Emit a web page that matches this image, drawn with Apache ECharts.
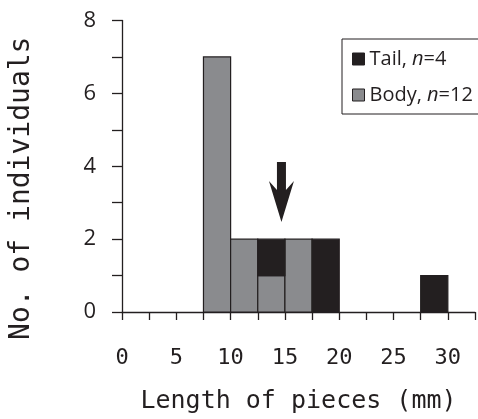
<!DOCTYPE html>
<html>
<head>
<meta charset="utf-8">
<script src="https://cdn.jsdelivr.net/npm/echarts@6/dist/echarts.min.js"></script>
<style>html,body{margin:0;padding:0;background:#fff;}#c{width:478px;height:419px;}</style>
</head>
<body>
<div id="c"></div>
<script>
var binStarts = [0, 2.5, 5, 7.5, 10, 12.5, 15, 17.5, 20, 22.5, 25, 27.5, 30];
var bodyCounts = [0, 0, 0, 7, 2, 1, 2, 0, 0, 0, 0, 0, 0];
var tailCounts = [0, 0, 0, 0, 0, 1, 0, 2, 0, 0, 0, 1, 0];
var binWidth = 2.5;
var arrowPos = [14.68, 3.29];
var xTickLabels = [0, 5, 10, 15, 20, 25, 30];
var yTickLabels = [0, 2, 4, 6, 8];

var INK = '#231f20';
var GRAY = '#8a8b8e';

var bodyData = binStarts.map(function (s, i) { return [s, 0, bodyCounts[i]]; });
var tailData = binStarts.map(function (s, i) { return [s, bodyCounts[i], bodyCounts[i] + tailCounts[i]]; });

function makeRender(fill) {
  return function (params, api) {
    var x0 = api.value(0), y0 = api.value(1), y1 = api.value(2);
    if (y1 <= y0) return null;
    var p0 = api.coord([x0, y0]);
    var p1 = api.coord([x0 + binWidth, y1]);
    return {
      type: 'rect',
      shape: { x: p0[0], y: p1[1], width: p1[0] - p0[0], height: p0[1] - p1[1] },
      style: { fill: fill, stroke: INK, lineWidth: 1.2 }
    };
  };
}

var chart = echarts.init(document.getElementById('c'), null, { renderer: 'canvas' });
chart.setOption({
  animation: false,
  backgroundColor: '#fff',
  grid: { left: 118, right: -2, top: 20.5, bottom: 105.7, containLabel: false },
  legend: {
    data: [{ name: 'Tail', icon: 'rect' }, { name: 'Body', icon: 'rect' }],
    orient: 'vertical',
    left: 342, top: 39,
    padding: [10, 10, 9, 10],
    itemWidth: 12, itemHeight: 12, itemGap: 16,
    backgroundColor: '#fff',
    borderColor: INK, borderWidth: 1,
    itemStyle: { borderColor: INK, borderWidth: 1 },
    selectedMode: false,
    formatter: function (name) {
      return name === 'Tail' ? '{a|Tail, }{i|n}{a|=4}' : '{a|Body, }{i|n}{a|=12}';
    },
    textStyle: {
      color: INK,
      rich: {
        a: { fontFamily: 'Open Sans', fontSize: 20, color: INK, lineHeight: 22 },
        i: { fontFamily: 'Open Sans', fontSize: 20, fontStyle: 'italic', color: INK, lineHeight: 22 }
      }
    }
  },
  xAxis: {
    type: 'value', min: 0, max: 32.5, interval: 2.5,
    name: 'Length of pieces (mm)', nameLocation: 'middle', nameGap: 77,
    nameTextStyle: { fontFamily: 'DejaVu Sans Mono', fontSize: 25, color: INK },
    axisLine: { show: true, onZero: false, lineStyle: { color: INK, width: 1.3 } },
    axisTick: { show: true, inside: false, length: 8, lineStyle: { color: INK, width: 1.3 } },
    axisLabel: {
      margin: 35, fontFamily: 'DejaVu Sans Mono', fontSize: 22, color: INK,
      formatter: function (v) { return xTickLabels.indexOf(v) >= 0 ? String(v) : ''; }
    },
    splitLine: { show: false }
  },
  yAxis: {
    type: 'value', min: 0, max: 8, interval: 1,
    name: 'No. of individuals', nameLocation: 'middle', nameGap: 86, nameRotate: 90,
    nameTextStyle: { fontFamily: 'DejaVu Sans Mono', fontSize: 28, color: INK, padding: [0, 44, 0, 0] },
    axisLine: { show: true, lineStyle: { color: INK, width: 1.3 } },
    axisTick: { show: true, inside: false, length: 10, lineStyle: { color: INK, width: 1.3 } },
    axisLabel: {
      margin: 26, fontFamily: 'Open Sans', fontSize: 22, color: INK, padding: [6, 0, 0, 0],
      formatter: function (v) { return yTickLabels.indexOf(v) >= 0 ? String(v) : ''; }
    },
    splitLine: { show: false }
  },
  series: [
    {
      name: 'Body', type: 'custom', renderItem: makeRender(GRAY),
      itemStyle: { color: GRAY, borderColor: INK, borderWidth: 1 },
      encode: { x: 0, y: 2 }, data: bodyData, z: 2
    },
    {
      name: 'Tail', type: 'custom', renderItem: makeRender(INK),
      itemStyle: { color: INK, borderColor: INK, borderWidth: 1 },
      encode: { x: 0, y: 2 }, data: tailData, z: 2
    },
    {
      name: 'arrow', type: 'scatter',
      symbol: 'path://M8 0 L17 0 L17 28 L25 19 L12.5 60 L0 19 L8 28 Z',
      symbolSize: [25, 60],
      itemStyle: { color: INK, opacity: 1 },
      data: [arrowPos], z: 3, silent: true
    }
  ]
});
</script>
</body>
</html>
